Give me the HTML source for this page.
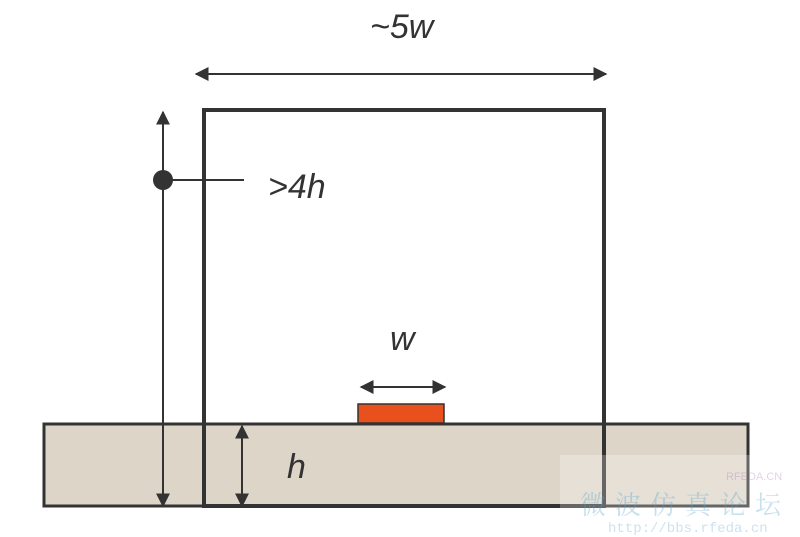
<!DOCTYPE html>
<html><head><meta charset="utf-8"><style>
html,body{margin:0;padding:0;background:#fff;width:800px;height:537px;overflow:hidden}
</style></head><body>
<svg width="800" height="537" viewBox="0 0 800 537" xmlns="http://www.w3.org/2000/svg">
<defs>
<marker id="a" viewBox="0 0 10 10" refX="9" refY="5" markerWidth="7" markerHeight="7" orient="auto-start-reverse"><path d="M0,0L10,5L0,10z" fill="#333"/></marker>
</defs>
<rect x="44" y="424" width="704" height="82" fill="#ddd5c8" stroke="#333" stroke-width="3"/>
<rect x="204" y="110" width="400" height="396" fill="none" stroke="#333" stroke-width="4"/>
<rect x="358" y="404" width="86" height="19" fill="#e8501e" stroke="#333" stroke-width="1.5"/>
<line x1="196" y1="74" x2="606" y2="74" stroke="#333" stroke-width="2" marker-start="url(#a)" marker-end="url(#a)"/>
<line x1="163" y1="112" x2="163" y2="506" stroke="#333" stroke-width="2" marker-start="url(#a)" marker-end="url(#a)"/>
<circle cx="163" cy="180" r="10" fill="#333"/>
<line x1="163" y1="180" x2="244" y2="180" stroke="#333" stroke-width="2"/>
<line x1="361" y1="387" x2="445" y2="387" stroke="#333" stroke-width="2" marker-start="url(#a)" marker-end="url(#a)"/>
<line x1="242" y1="426" x2="242" y2="506" stroke="#333" stroke-width="2" marker-start="url(#a)" marker-end="url(#a)"/>
<g font-family="Liberation Sans, sans-serif" font-style="italic" fill="#333" font-size="34">
<text x="370" y="38">~5w</text>
<text x="268" y="198">&gt;4h</text>
<text x="390" y="350">w</text>
<text x="287" y="478">h</text>
</g>
<g opacity="0.5">
<rect x="560" y="455" width="240" height="60" fill="#fff" opacity="0.5"/>
<text x="726" y="480" font-family="Liberation Sans, sans-serif" font-size="11" fill="#c8a6d8">RFEDA.CN</text>
<text x="580" y="514" font-family="Liberation Serif, 'Noto Serif CJK SC', serif" font-size="26" fill="#8ec3db" letter-spacing="9">微波仿真论坛</text>
<text x="608" y="532" font-family="Liberation Mono, monospace" font-size="14" fill="#9cc6dc">http://bbs.rfeda.cn</text>
</g>
</svg>
</body></html>
